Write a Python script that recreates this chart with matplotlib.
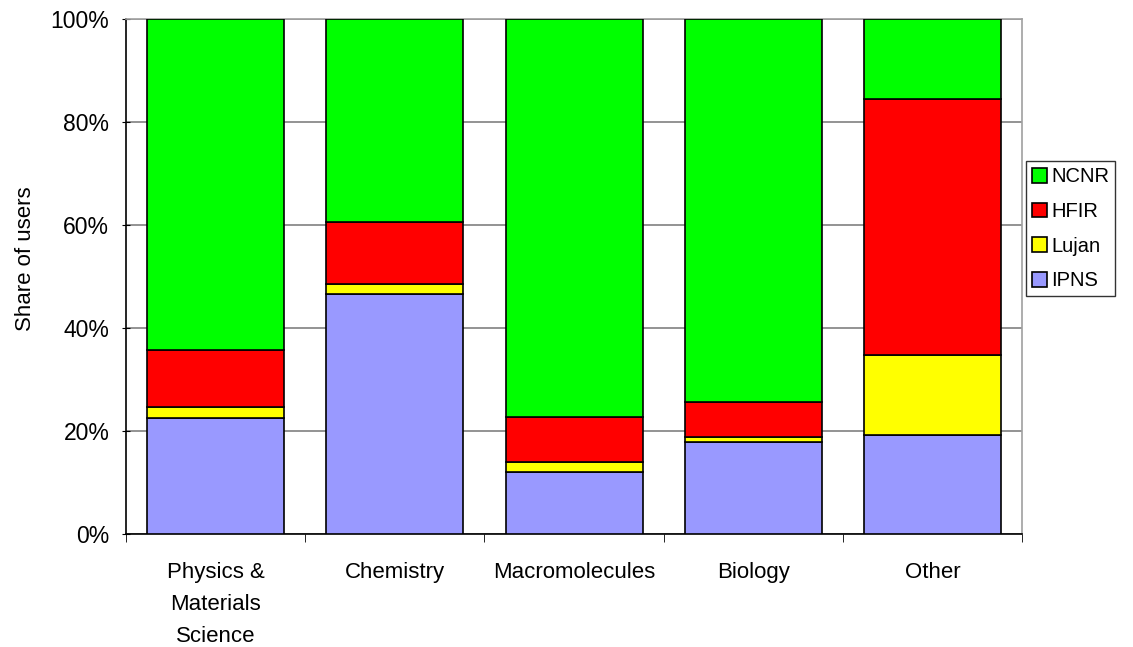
import numpy as np
import matplotlib.pyplot as plt
from matplotlib.ticker import FuncFormatter, FixedLocator

plt.rcParams['font.family'] = ['Liberation Sans', 'DejaVu Sans']

categories = ["Physics &\nMaterials\nScience", "Chemistry", "Macromolecules", "Biology", "Other"]
# share of users per facility (%)
ipns = [22.5, 46.7, 12.0, 17.8, 19.3]
lujan = [2.2, 1.8, 1.9, 1.1, 15.4]
hfir = [11.1, 12.1, 8.9, 6.8, 49.8]
ncnr = [64.2, 39.4, 77.2, 74.3, 15.5]

series = [("IPNS", ipns, "#9999FF"), ("Lujan", lujan, "#FFFF00"),
          ("HFIR", hfir, "#FF0000"), ("NCNR", ncnr, "#00FF00")]

fig = plt.figure(figsize=(11.33, 6.47), dpi=100)
ax = fig.add_axes([0.1112, 0.1747, 0.7910, 0.7952])

x = np.arange(len(categories))
bottom = np.zeros(len(categories))
handles = []
for name, vals, col in series:
    b = ax.bar(x, vals, width=0.765, bottom=bottom, color=col,
               edgecolor="black", linewidth=1.2, label=name, zorder=3)
    handles.append(b)
    bottom = bottom + np.array(vals)

ax.set_xlim(-0.5, len(categories) - 0.5)
ax.set_ylim(0, 100)
ax.set_yticks(np.arange(0, 101, 20))
ax.yaxis.set_major_formatter(FuncFormatter(lambda v, p: "%d%%" % v))
ax.yaxis.grid(True, color="#808080", linewidth=1.2, zorder=0)
ax.set_ylabel("Share of users", fontsize=16)
ax.yaxis.set_label_coords(-0.100, 0.535)

ax.set_xticks(x)
ax.set_xticklabels(categories, fontsize=16, linespacing=1.68, va="top")
ax.tick_params(axis="x", which="major", length=0, pad=20)
ax.xaxis.set_minor_locator(FixedLocator(np.arange(-0.5, len(categories), 1.0)))
ax.tick_params(axis="x", which="minor", length=6, direction="out", color="black")
ax.tick_params(axis="y", length=6, direction="inout", labelsize=16.5, pad=9)

for s in ["top", "right"]:
    ax.spines[s].set_color("#a0a0a0")
    ax.spines[s].set_linewidth(1.2)
for s in ["left", "bottom"]:
    ax.spines[s].set_color("black")
    ax.spines[s].set_linewidth(1.2)

leg = ax.legend(handles[::-1], [h.get_label() for h in handles[::-1]],
                loc="center left", bbox_to_anchor=(1.004, 0.593), fontsize=14.5,
                frameon=True, fancybox=False, edgecolor="black",
                handlelength=0.75, handleheight=0.75, handletextpad=0.2,
                labelspacing=0.78, borderpad=0.3, borderaxespad=0)
leg.get_frame().set_linewidth(1.0)

plt.savefig("out.png", dpi=100)
